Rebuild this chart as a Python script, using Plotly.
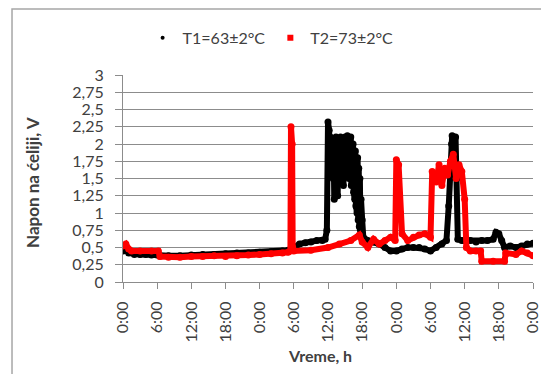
import plotly.graph_objects as go

# Time axis (hours from start) and tick labels
tick_hours = [0, 6, 12, 18, 24, 30, 36, 42, 48, 54, 60, 66, 72]
tick_labels = ["0:00", "6:00", "12:00", "18:00", "0:00", "6:00", "12:00",
               "18:00", "0:00", "6:00", "12:00", "18:00", "0:00"]
y_ticks = [0, 0.25, 0.5, 0.75, 1, 1.25, 1.5, 1.75, 2, 2.25, 2.5, 2.75, 3]
y_tick_labels = ["0", "0,25", "0,5", "0,75", "1", "1,25", "1,5", "1,75",
                 "2", "2,25", "2,5", "2,75", "3"]
x_title = "Vreme, h"
y_title = "Napon na ćeliji, V"

# Series T1 (black)
t1_time = [0, 0.5, 1, 2, 3, 4, 5, 6, 6.5, 8, 10, 12, 14, 16, 18, 20, 22, 24,
           26, 28, 29, 30, 31, 32, 33, 34, 35, 35.5, 35.8,
           36.0, 36.1, 36.2, 36.3, 36.4, 36.5, 36.6, 36.7, 36.8, 36.9, 37.0,
           37.1, 37.2, 37.3, 37.4, 37.5, 37.6, 37.7, 37.8, 37.9, 38.0,
           38.1, 38.2, 38.3, 38.4, 38.5, 38.6, 38.7, 38.8, 38.9, 39.0,
           39.1, 39.2, 39.3, 39.4, 39.5, 39.6, 39.7, 39.8, 39.9, 40.0,
           40.1, 40.2, 40.3, 40.4, 40.5, 40.6, 40.7, 40.8, 40.9, 41.0,
           41.1, 41.2, 41.3, 41.4, 41.5, 41.6, 41.7, 41.8, 42.0, 42.2,
           43, 44, 45, 46, 47, 48, 49, 50, 51, 52, 53, 54, 55, 56, 56.8,
           57.2, 57.5, 57.7, 57.8, 58.0, 58.1, 58.2, 58.4, 58.6, 58.8, 59.5,
           60, 61, 62, 63, 64, 65, 65.5, 66, 66.5, 67, 68, 69, 70, 71, 72]
t1_value = [0.45, 0.47, 0.42, 0.4, 0.4, 0.4, 0.39, 0.39, 0.38, 0.38, 0.38,
            0.39, 0.4, 0.4, 0.41, 0.42, 0.42, 0.43, 0.44, 0.45, 0.46, 0.5,
            0.55, 0.57, 0.58, 0.6, 0.6, 0.62, 0.75,
            2.32, 1.9, 2.2, 1.7, 2.1, 1.8, 2.0, 1.6, 2.05, 1.5, 1.9,
            1.2, 2.05, 1.7, 2.1, 1.5, 2.0, 1.25, 1.95, 1.6, 2.05,
            1.8, 2.1, 1.5, 2.05, 1.7, 2.0, 1.4, 1.95, 1.8, 2.1,
            1.6, 2.05, 1.9, 2.12, 1.7, 2.05, 1.5, 2.08, 1.8, 2.1,
            1.4, 1.95, 1.6, 2.0, 1.3, 1.85, 1.2, 1.9, 1.1, 1.75,
            1.0, 1.8, 0.9, 1.65, 0.8, 1.5, 0.75, 1.2, 0.9, 0.65,
            0.6, 0.58, 0.55, 0.5, 0.45, 0.45, 0.48, 0.5, 0.5, 0.5, 0.48,
            0.45, 0.5, 0.55, 0.6,
            1.1, 1.6, 2.0, 2.12, 1.9, 2.1, 2.0, 2.1, 1.5, 0.62, 0.6,
            0.6, 0.6, 0.58, 0.6, 0.6, 0.62, 0.72, 0.7, 0.6, 0.5, 0.52, 0.5,
            0.52, 0.55, 0.56]

# Series T2 (red)
t2_time = [0, 0.5, 1, 1.5, 3, 5, 6.2, 6.5, 8, 10, 12, 14, 16, 18, 20, 22, 24,
           26, 28, 29, 29.4, 29.5, 29.6, 29.7, 29.8, 30, 33, 36, 38, 40, 41.5,
           42, 43, 44, 45, 46, 47, 47.8, 48, 48.4, 48.7, 49, 50, 51, 52, 53,
           54, 54.3, 55, 55.5, 56, 56.5, 57, 57.5, 58, 58.5, 59, 59.5, 60,
           60.3, 61, 62, 62.8, 63, 65, 67, 67.2, 69, 70, 71, 72]
t2_value = [0.52, 0.55, 0.48, 0.45, 0.45, 0.45, 0.45, 0.37, 0.36, 0.36, 0.37,
            0.37, 0.38, 0.37, 0.38, 0.39, 0.4, 0.41, 0.42, 0.43, 0.45, 2.25,
            1.0, 2.0, 0.5, 0.45, 0.46, 0.5, 0.55, 0.6, 0.68,
            0.58, 0.5, 0.62, 0.55, 0.6, 0.65, 0.6, 1.77, 1.7, 1.0, 0.7, 0.6,
            0.65, 0.68, 0.7, 0.65, 1.6, 1.45, 1.7, 1.4, 1.65, 1.55, 1.75,
            1.85, 1.5, 1.7, 1.6, 1.2, 0.5, 0.45, 0.45, 0.45, 0.3, 0.3, 0.3,
            0.42, 0.4, 0.45, 0.42, 0.38]

series_names = ["T1=63±2°C", "T2=73±2°C"]
series_colors = ["#000000", "#ff0000"]

fig = go.Figure()

for name, color, xs, ys in [(series_names[0], series_colors[0], t1_time, t1_value),
                            (series_names[1], series_colors[1], t2_time, t2_value)]:
    fig.add_trace(go.Scatter(
        x=xs, y=ys, mode="lines+markers", name=name, showlegend=False,
        line=dict(color=color, width=6),
        marker=dict(color=color, size=7),
    ))

# legend entries (marker only)
fig.add_trace(go.Scatter(x=[None], y=[None], mode="markers", name=series_names[0],
                         marker=dict(color=series_colors[0], size=4, symbol="circle")))
fig.add_trace(go.Scatter(x=[None], y=[None], mode="markers", name=series_names[1],
                         marker=dict(color=series_colors[1], size=6, symbol="square")))

font_family = "Lato, 'Open Sans', sans-serif"

# page has an 8px body margin, so figure is 541x366 placed at (8, 8)
fig.update_layout(
    width=541, height=366,
    margin=dict(l=115, r=16, t=67, b=92),
    paper_bgcolor="white", plot_bgcolor="white",
    font=dict(family=font_family, size=13, color="#404040"),
    legend=dict(orientation="h", x=0.36, xanchor="center", y=1.18, yanchor="middle",
                font=dict(size=16, color="#404040"), itemwidth=30,
                bgcolor="rgba(0,0,0,0)"),
    xaxis=dict(
        range=[0, 72], tickmode="array", tickvals=tick_hours, ticktext=tick_labels,
        tickangle=-90, showgrid=False, zeroline=False, automargin=False,
        showline=True, linecolor="#8c8c8c", linewidth=1,
        ticks="outside", ticklen=6, tickcolor="#8c8c8c", ticklabelstandoff=6,
        tickfont=dict(size=16, color="#404040"),
    ),
    yaxis=dict(
        range=[0, 3], tickmode="array", tickvals=y_ticks, ticktext=y_tick_labels,
        showgrid=True, gridcolor="#8c8c8c", gridwidth=1, zeroline=False, automargin=False,
        showline=True, linecolor="#8c8c8c", linewidth=1,
        ticks="outside", ticklen=7, tickcolor="#8c8c8c", ticklabelstandoff=8,
        tickfont=dict(size=16, color="#404040"),
    ),
    annotations=[
        dict(text="<b>" + y_title + "</b>", xref="paper", yref="paper",
             x=-0.222, y=0.483, xanchor="center", yanchor="middle", textangle=-90,
             showarrow=False, font=dict(size=17, color="#404040")),
        dict(text="<b>" + x_title + "</b>", xref="paper", yref="paper",
             x=0.48, y=-0.353, xanchor="center", yanchor="middle",
             showarrow=False, font=dict(size=16, color="#404040")),
    ],
    shapes=[dict(type="rect", xref="paper", yref="paper",
                 x0=-0.2707, x1=1.2, y0=-0.6, y1=1.319,
                 line=dict(color="#a6a6a6", width=1.5), fillcolor="rgba(0,0,0,0)",
                 layer="below")],
)

fig.write_html("out.html")
